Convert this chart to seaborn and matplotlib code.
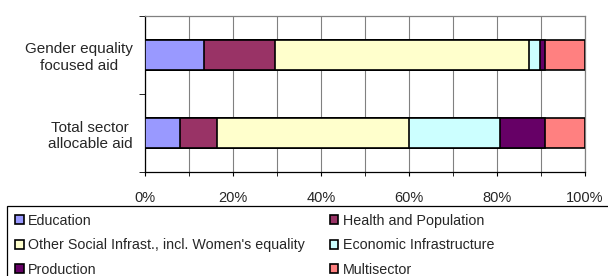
import numpy as np
import pandas as pd
import matplotlib
matplotlib.use('Agg')
import matplotlib.pyplot as plt
from matplotlib.patches import Patch, Rectangle
import seaborn as sns

# data (share of sector allocable aid, %)
categories = ['Gender equality\nfocused aid', 'Total sector\nallocable aid']
sectors = ['Education', 'Health and Population',
           'Other Social Infrast., incl. Women\'s equality',
           'Economic Infrastructure', 'Production', 'Multisector']
education = [13.3, 7.9]
health = [16.2, 8.4]
other_social = [57.7, 43.7]
economic = [2.6, 20.7]
production = [1.0, 10.2]
multisector = [9.2, 9.1]
colors = ['#9999FF', '#993366', '#FFFFCC', '#CCFFFF', '#660066', '#FF8080']

sns.set_style('white')
plt.rcParams['font.family'] = ['Liberation Sans', 'DejaVu Sans']

df = pd.DataFrame({'cat': categories, 'Education': education,
                   'Health and Population': health,
                   sectors[2]: other_social,
                   'Economic Infrastructure': economic,
                   'Production': production, 'Multisector': multisector})
vals = df[sectors]
vals = vals.div(vals.sum(axis=1), axis=0)
cum = vals.cumsum(axis=1)

fig = plt.figure(figsize=(6.08, 2.76), dpi=100)
ax = fig.add_axes([145 / 608, 1 - 172 / 276, 440 / 608, 156 / 276])

# stacked bars: draw cumulative totals from the largest down
for s, c in reversed(list(zip(sectors, colors))):
    sns.barplot(x=cum[s].values, y=df['cat'], orient='h', color=c,
                width=0.385, edgecolor='black', linewidth=1.2,
                saturation=1, ax=ax, zorder=3)

ax.set_xlim(0, 1)
ax.set_ylim(1.5, -0.5)
ax.set_xticks(np.arange(0, 1.01, 0.2))
ax.set_xticks(np.arange(0.1, 1.0, 0.2), minor=True)
ax.set_xticklabels(['0%', '20%', '40%', '60%', '80%', '100%'], fontsize=10.5)
ax.xaxis.grid(True, which='both', color='#808080', linewidth=0.8, zorder=0)
ax.tick_params(axis='x', which='both', direction='out', length=3,
               color='black', bottom=True, pad=10.5)
ax.set_yticks([0, 1])
ax.set_yticklabels(categories, fontsize=11, ha='right', ma='center')
ax.set_yticks([-0.5, 0.5, 1.5], minor=True)
ax.tick_params(axis='y', which='major', length=0, pad=9)
ax.tick_params(axis='y', which='minor', length=4, left=True, color='black')
ax.set_xlabel('')
ax.set_ylabel('')
for side in ['left', 'bottom']:
    ax.spines[side].set_color('black')
    ax.spines[side].set_linewidth(0.9)
for side in ['top', 'right']:
    ax.spines[side].set_color('#808080')
    ax.spines[side].set_linewidth(0.9)
ax.set_axisbelow(True)

# legend, filled row by row like the original
order = [0, 2, 4, 1, 3, 5]
handles = [Patch(facecolor=colors[i], edgecolor='black', linewidth=1.2) for i in order]
labels = [sectors[i] for i in order]
fig.legend(handles, labels, loc='upper left', ncol=2,
           bbox_to_anchor=(15 / 608, 1 - 214 / 276),
           fontsize=10.3, frameon=False,
           handlelength=0.6, handleheight=0.6, handletextpad=0.3,
           labelspacing=0.72, columnspacing=1.75, borderpad=0,
           borderaxespad=0)
fig.patches.append(Rectangle((7 / 608, -0.05), 1.0, 1 - 206 / 276 + 0.05,
                             transform=fig.transFigure, fill=False,
                             edgecolor='black', linewidth=0.9))

fig.savefig('out.png', dpi=100)
